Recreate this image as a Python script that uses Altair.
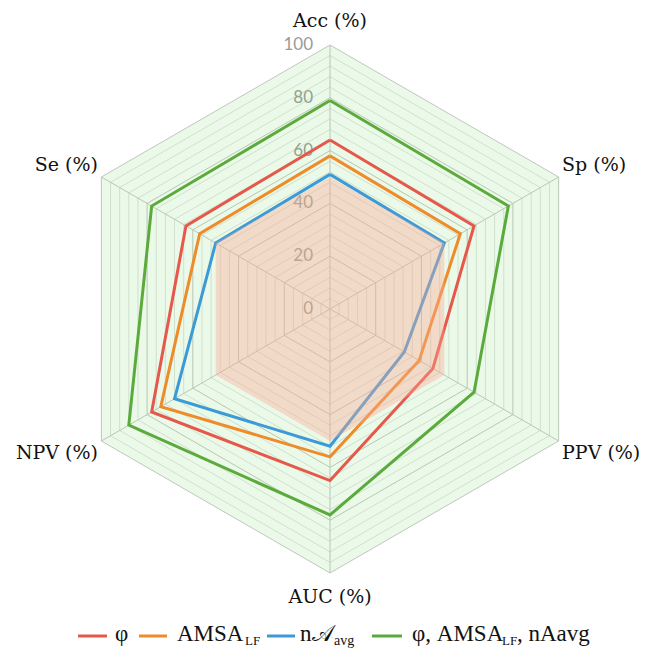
import altair as alt
import pandas as pd

# ---------------- data ----------------
axis_labels = ["Acc (%)", "Sp (%)", "PPV (%)", "AUC (%)", "NPV (%)", "Se (%)"]
series_keys = ["phi", "amsa", "nA", "combined"]
phi_vals = [64, 63, 45, 65, 78, 63]
amsa_vals = [58, 57, 39, 56, 74, 57]
nA_vals = [51, 50, 32.5, 52, 68, 50]
comb_vals = [79, 78, 63, 78, 88, 78]
tick_values = [0, 20, 40, 60, 80, 100]
grid_levels = list(range(4, 101, 4))
fill_levels = [100, 50]

colors = ["#E5584A", "#EE8B2A", "#3C9AD6", "#5BAA3C"]

# ---------------- layout ----------------
PX = 2.64  # pixels per unit
W, H = 632, 641
CX, CY = 322, 301
xs = alt.Scale(domain=[-CX / PX, (W - CX) / PX])
ys = alt.Scale(domain=[-(H - CY) / PX, CY / PX])

def X(f):
    return alt.X(f, type="quantitative", scale=xs, axis=None)

def Y(f):
    return alt.Y(f, type="quantitative", scale=ys, axis=None)

ANG = "PI/2 - datum.idx*PI/3"

# series table
rows = []
for key, vals in zip(series_keys, [phi_vals, amsa_vals, nA_vals, comb_vals]):
    for i in range(7):
        rows.append({"series": key, "idx": i, "value": vals[i % 6]})
series_df = pd.DataFrame(rows)

grid_rows = []
for lv in grid_levels:
    for i in range(7):
        grid_rows.append({"level": lv, "idx": i, "major": int(lv % 20 == 0)})
grid_df = pd.DataFrame(grid_rows)

spoke_df = pd.DataFrame({"idx": list(range(6)), "value": [100] * 6})
tick_df = pd.DataFrame({"level": tick_values})
label_df = pd.DataFrame({"idx": list(range(6)), "label": axis_labels})
fill_df = pd.DataFrame([{"level": lv, "k": k} for lv in fill_levels for k in (-1, 0, 1)])

def grid_layer(major, color, width):
    return (
        alt.Chart(grid_df)
        .transform_filter(f"datum.major == {major}")
        .transform_calculate(ang=ANG)
        .transform_calculate(gx="datum.level*cos(datum.ang)", gy="datum.level*sin(datum.ang)")
        .mark_line(color=color, strokeWidth=width)
        .encode(x=X("gx"), y=Y("gy"), detail="level:N", order="idx:Q")
    )

minor = grid_layer(0, "#DADADA", 0.8)
major = grid_layer(1, "#C6C6C6", 1)

spokes = (
    alt.Chart(spoke_df)
    .transform_calculate(ang=ANG)
    .transform_calculate(px="datum.value*cos(datum.ang)", py="datum.value*sin(datum.ang)", zero="0")
    .mark_rule(color="#C6C6C6", strokeWidth=1)
    .encode(x=X("zero"), y=Y("zero"), x2="px:Q", y2="py:Q")
)

ticks = (
    alt.Chart(tick_df)
    .transform_calculate(zero="0")
    .mark_text(align="right", baseline="middle", dx=-17, font="Lato", fontSize=17, color="#9A9A9A")
    .encode(x=X("zero"), y=Y("level"), text="level:Q")
)

def fill_layer(level, color, opacity):
    return (
        alt.Chart(fill_df)
        .transform_filter(f"datum.level == {level}")
        .transform_calculate(
            fx="datum.level*cos(PI/6)*datum.k",
            fy="datum.level*(datum.k == 0 ? 1 : 0.5)",
        )
        .transform_calculate(fy2="-datum.fy")
        .mark_area(color=color, opacity=opacity)
        .encode(x=X("fx"), y=Y("fy"), y2="fy2:Q")
    )

green_fill = fill_layer(100, "#5AD541", 0.12)
orange_fill = fill_layer(50, "#FAAA96", 0.4)

lines = (
    alt.Chart(series_df)
    .transform_calculate(ang=ANG)
    .transform_calculate(px="datum.value*cos(datum.ang)", py="datum.value*sin(datum.ang)")
    .mark_line(strokeWidth=3)
    .encode(
        x=X("px"),
        y=Y("py"),
        color=alt.Color("series:N", scale=alt.Scale(domain=series_keys, range=colors), legend=None),
        order="idx:Q",
    )
)

def label_layer(cond, align):
    return (
        alt.Chart(label_df)
        .transform_calculate(ang=ANG)
        .transform_calculate(lx="101.5*cos(datum.ang)", ly="109*sin(datum.ang)")
        .transform_filter(cond)
        .mark_text(align=align, baseline="middle", font="DejaVu Serif", fontSize=19, color="#111111")
        .encode(x=X("lx"), y=Y("ly"), text="label:N")
    )

labels_c = label_layer("abs(datum.lx) < 1", "center")
labels_l = label_layer("datum.lx > 1", "left")
labels_r = label_layer("datum.lx < -1", "right")

# ---------------- custom legend ----------------
LEG_Y = 628
LEG_BASE = 633
legend_lines = [(70, 99, colors[0]), (131, 159, colors[1]), (259, 287, colors[2]), (364, 394, colors[3])]
legend_texts = [
    ("φ", 107, 0, 23),
    ("AMSA", 169, 0, 23),
    ("LF", 237, 4, 13),
    ("n𝒜", 292, 0, 23),
    ("avg", 326, 4, 14),
    ("φ, AMSA", 404, 0, 23),
    ("LF", 494, 4, 13),
    (", nAavg", 509, 0, 23),
]

legend_layers = []
for x0, x1, c in legend_lines:
    legend_layers.append(
        alt.Chart(pd.DataFrame({"a": [0]}))
        .mark_rule(color=c, strokeWidth=3)
        .encode(x=alt.value(x0), x2=alt.value(x1), y=alt.value(LEG_Y))
    )
for t, x0, dy, fs in legend_texts:
    legend_layers.append(
        alt.Chart(pd.DataFrame({"t": [t]}))
        .mark_text(align="left", baseline="alphabetic", font="Liberation Serif", fontSize=fs, color="#111111")
        .encode(x=alt.value(x0), y=alt.value(LEG_BASE + dy), text="t:N")
    )

chart = (
    alt.layer(
        minor, major, spokes, ticks, green_fill, lines, orange_fill,
        labels_c, labels_l, labels_r, *legend_layers
    )
    .properties(width=W, height=H, padding=0, autosize="none")
    .configure_view(stroke=None)
)

chart.save("out.html", embed_options={"renderer": "svg", "actions": False})
